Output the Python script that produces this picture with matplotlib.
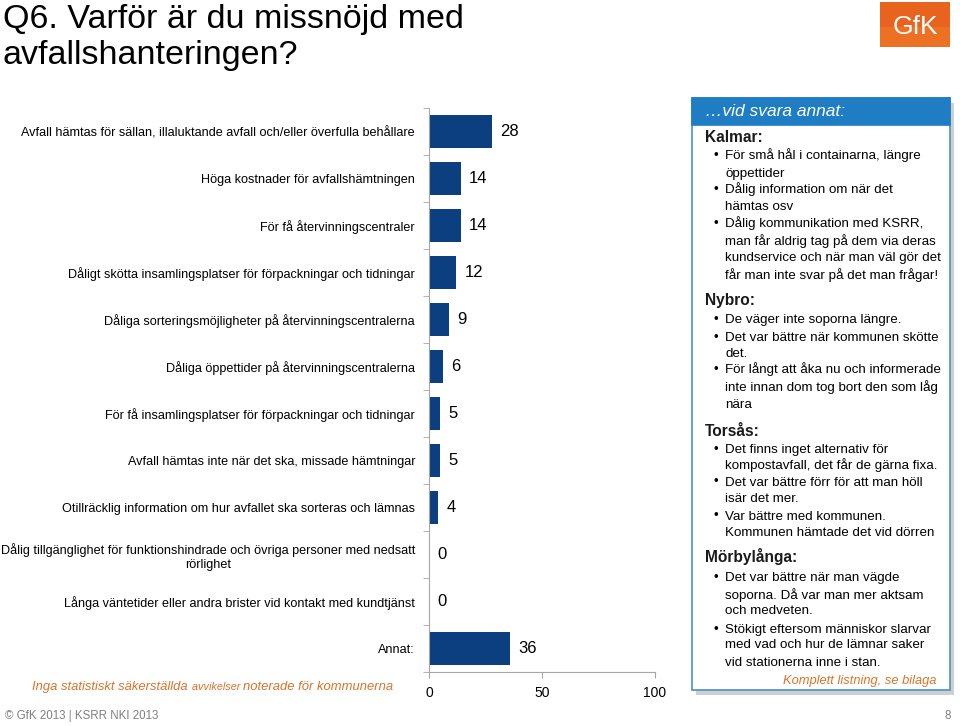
import matplotlib
matplotlib.use("Agg")
import matplotlib.pyplot as plt
from matplotlib.patches import Rectangle

plt.rcParams['font.family'] = ['Liberation Sans', 'DejaVu Sans']

categories = [
    "Avfall hämtas för sällan, illaluktande avfall och/eller överfulla behållare",
    "Höga kostnader för avfallshämtningen",
    "För få återvinningscentraler",
    "Dåligt skötta insamlingsplatser för förpackningar och tidningar",
    "Dåliga sorteringsmöjligheter på återvinningscentralerna",
    "Dåliga öppettider på återvinningscentralerna",
    "För få insamlingsplatser för förpackningar och tidningar",
    "Avfall hämtas inte när det ska, missade hämtningar",
    "Otillräcklig information om hur avfallet ska sorteras och lämnas",
    "Dålig tillgänglighet för funktionshindrade och övriga personer med nedsatt\nrörlighet",
    "Långa väntetider eller andra brister vid kontakt med kundtjänst",
    "Annat:",
]
values = [28, 14, 14, 12, 9, 6, 5, 5, 4, 0, 0, 36]
xticks = [0, 50, 100]

title_text = "Q6. Varför är du missnöjd med\navfallshanteringen?"
note_parts = [("Inga statistiskt säkerställda ", 9.4),
              ("avvikelser ", 7.8),
              ("noterade för kommunerna", 9.4)]
footer_left = "© GfK 2013 | KSRR NKI 2013"
footer_right = "8"

panel_header = "…vid svara annat:"
panel_lines = [
    ("h", "Kalmar:"),
    ("b", "För små hål i containarna, längre"),
    ("c", "öppettider"),
    ("b", "Dålig information om när det"),
    ("c", "hämtas osv"),
    ("b", "Dålig kommunikation med KSRR,"),
    ("c", "man får aldrig tag på dem via deras"),
    ("c", "kundservice och när man väl gör det"),
    ("c", "får man inte svar på det man frågar!"),
    ("h", "Nybro:"),
    ("b", "De väger inte soporna längre."),
    ("b", "Det var bättre när kommunen skötte"),
    ("c", "det."),
    ("b", "För långt att åka nu och informerade"),
    ("c", "inte innan dom tog bort den som låg"),
    ("c", "nära"),
    ("h", "Torsås:"),
    ("b", "Det finns inget alternativ för"),
    ("c", "kompostavfall, det får de gärna fixa."),
    ("b", "Det var bättre förr för att man höll"),
    ("c", "isär det mer."),
    ("b", "Var bättre med kommunen."),
    ("c", "Kommunen hämtade det vid dörren"),
    ("h", "Mörbylånga:"),
    ("b", "Det var bättre när man vägde"),
    ("c", "soporna. Då var man mer aktsam"),
    ("c", "och medveten."),
    ("b", "Stökigt eftersom människor slarvar"),
    ("c", "med vad och hur de lämnar saker"),
    ("c", "vid stationerna inne i stan."),
]
panel_footer = "Komplett listning, se bilaga"

W, H = 960, 726
fig = plt.figure(figsize=(W / 100, H / 100), dpi=100)

def fx(x):
    return x / W

def fy(y):
    return 1 - y / H

BLUE = '#0B3F80'
ORANGE = '#D9742B'
GRAY = '#A6A6A6'

# --- bar axes ---
ax = fig.add_axes([fx(429), fy(672), (655 - 429) / W, (672 - 108) / H])
ypos = list(range(len(categories)))
ax.barh(ypos, values, height=0.7, color=BLUE)
ax.set_xlim(0, 100)
ax.set_ylim(len(categories) - 0.5, -0.5)
for y, v in zip(ypos, values):
    ax.annotate(str(v), (v, y), xytext=(6, 0), textcoords='offset points',
                ha='left', va='center', fontsize=12, color='black')
ax.set_yticks(ypos)
ax.set_yticklabels(categories, fontsize=9.1, color='black', multialignment='center')
ax.tick_params(axis='y', which='major', length=0, pad=10)
ax.set_yticks([i - 0.5 for i in range(len(categories) + 1)], minor=True)
ax.tick_params(axis='y', which='minor', length=4, color=GRAY, direction='out')
ax.set_xticks(xticks)
ax.set_xticklabels([str(t) for t in xticks], fontsize=10)
ax.tick_params(axis='x', length=4, color=GRAY, pad=6)
for s in ['top', 'right']:
    ax.spines[s].set_visible(False)
for s in ['left', 'bottom']:
    ax.spines[s].set_color(GRAY)
ax.patch.set_alpha(0)

# --- title ---
fig.text(fx(3), fy(4), title_text, fontsize=24.5, ha='left', va='top',
         color='black', linespacing=1.22)

# --- GfK logo ---
fig.patches.append(Rectangle((fx(880), fy(47)), 70 / W, 45 / H, transform=fig.transFigure,
                             facecolor='#E8641E', edgecolor='none'))
fig.patches.append(Rectangle((fx(880), fy(47)), 70 / W, 20 / H, transform=fig.transFigure,
                             facecolor='#F07A2A', edgecolor='none', alpha=0.6))
fig.text(fx(915), fy(27), "GfK", fontsize=19, color='white', ha='center', va='center')

# --- note (mixed sizes, right aligned at x=393) ---
renderer = fig.canvas.get_renderer()
x_right = 393
for txt, size in reversed(note_parts):
    t = fig.text(fx(x_right), fy(690), txt, fontsize=size, style='italic', color=ORANGE,
                 ha='right', va='baseline')
    bb = t.get_window_extent(renderer=renderer)
    x_right -= bb.width

# --- footer ---
fig.text(fx(5), fy(716), footer_left, fontsize=8.3, color='#7F7F7F', ha='left', va='center')
fig.text(fx(951), fy(716), footer_right, fontsize=8.3, color='#7F7F7F', ha='right', va='center')

# --- right panel ---
bx0, by0, bx1, by1 = 692, 98, 950, 690
fig.patches.append(Rectangle((fx(bx0 + 4), fy(by1 + 5)), (bx1 - bx0) / W, (by1 - by0) / H,
                             transform=fig.transFigure, facecolor='#CFCFCF', edgecolor='none'))
fig.patches.append(Rectangle((fx(bx0), fy(by1)), (bx1 - bx0) / W, (by1 - by0) / H,
                             transform=fig.transFigure, facecolor='white',
                             edgecolor='#4A90C8', lw=1.2))
fig.patches.append(Rectangle((fx(bx0), fy(125)), (bx1 - bx0) / W, (125 - by0) / H,
                             transform=fig.transFigure, facecolor='#1F7DC3',
                             edgecolor='#1F7DC3', lw=1.2))
fig.text(fx(705), fy(111), panel_header, fontsize=12.5, style='italic', color='white',
         ha='left', va='center')

line_y = [137, 155, 172, 189, 206, 223, 240, 257, 274,
          300, 318, 336, 352, 369, 386, 403,
          431, 448, 464, 481, 498, 515, 532,
          557, 577, 594, 610, 628, 644, 661]
for (kind, txt), yy in zip(panel_lines, line_y):
    base = fy(yy + 4.5)
    if kind == 'h':
        fig.text(fx(705), fy(yy + 5), txt, fontsize=11.2, fontweight='bold', color='#1A1A1A',
                 ha='left', va='baseline')
    else:
        if kind == 'b':
            fig.text(fx(714), base, "•", fontsize=9.5, color='black', ha='left', va='baseline')
        fig.text(fx(725), base, txt, fontsize=9.6, color='black', ha='left', va='baseline')
fig.text(fx(936), fy(684), panel_footer, fontsize=9.3, style='italic', color=ORANGE,
         ha='right', va='baseline')

fig.savefig("out.png", dpi=100)
